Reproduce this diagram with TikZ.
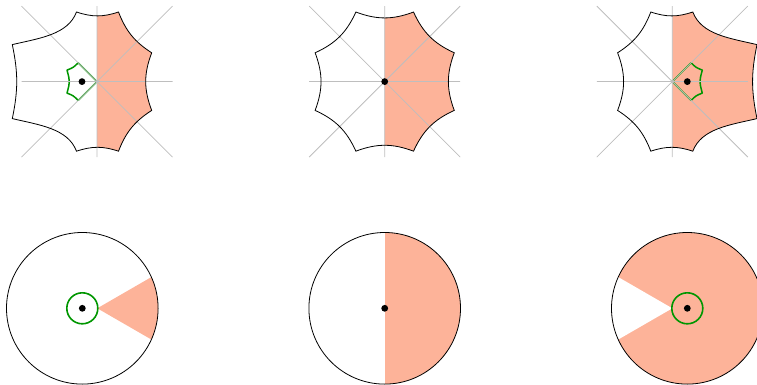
\documentclass[tikz,border=0pt]{standalone}
\definecolor{salmon}{RGB}{253,179,153}
\definecolor{dgreen}{RGB}{0,150,0}
\definecolor{lgrey}{RGB}{190,190,190}
\tikzset{
  outline/.style={draw=black, line width=0.8pt, line join=miter},
  greyline/.style={draw=lgrey, line width=0.8pt},
  greenline/.style={draw=dgreen, line width=1.5pt, line join=round},
  greenring/.style={draw=dgreen, line width=1.6pt},
  salmonfill/.style={fill=salmon},
  dotmark/.style={fill=black},
}
\newcommand{\leftoct}{(21.5,-69.6) .. controls (28.9,-50.5) and (37.5,-39.9) .. (54.7,-28.8)
  .. controls (46.7,-7.8) and (46.7,7.8) .. (54.7,28.8)
  .. controls (37.5,39.9) and (28.9,50.5) .. (21.5,69.6)
  .. controls (6,64.4) and (-5,64.4) .. (-20.5,69.6)
  .. controls (-29.1,46.9) and (-57.4,43.4) .. (-84.7,37)
  .. controls (-78.8,8.7) and (-78.8,-8.7) .. (-84.7,-37)
  .. controls (-57.4,-43.4) and (-29.1,-46.9) .. (-20.5,-69.6)
  .. controls (-5,-64.4) and (6,-64.4) .. (21.5,-69.6) -- cycle}
\newcommand{\midoct}{(69.57,28.82) .. controls (49.15,38.12) and (38.12,49.15) .. (28.82,69.57)
  .. controls (7.80,61.71) and (-7.80,61.71) .. (-28.82,69.57)
  .. controls (-38.12,49.15) and (-49.15,38.12) .. (-69.57,28.82)
  .. controls (-61.71,7.80) and (-61.71,-7.80) .. (-69.57,-28.82)
  .. controls (-49.15,-38.12) and (-38.12,-49.15) .. (-28.82,-69.57)
  .. controls (-7.80,-61.71) and (7.80,-61.71) .. (28.82,-69.57)
  .. controls (38.12,-49.15) and (49.15,-38.12) .. (69.57,-28.82)
  .. controls (61.71,-7.80) and (61.71,7.80) .. (69.57,28.82) -- cycle}
\newcommand{\greenpent}{(0,0) -- (-18.8,-18.8) .. controls (-23.7,-14) .. (-30,-11.5)
  .. controls (-26.9,0) .. (-30,11.5) .. controls (-23.7,14) .. (-18.8,18.8) -- cycle}
\newcommand{\greylines}{(-75.5,0) -- (75.5,0) (0,-75.5) -- (0,75.5)
  (-75.5,-75.5) -- (75.5,75.5) (-75.5,75.5) -- (75.5,-75.5)}
\begin{document}
\begin{tikzpicture}[x=1pt,y=-1pt]
\useasboundingbox (0,0) rectangle (757,385);
% ---------- top left ----------
\begin{scope}[shift={(97,81.6)}]
  \coordinate (c1) at (0,0);
  \begin{scope}
    \clip (0,-90) rectangle (100,90);
    \path[salmonfill] \leftoct;
  \end{scope}
  \draw[greenline] \greenpent;
  \draw[greyline] \greylines;
  \draw[outline] \leftoct;
  \fill[dotmark] (-15,0) circle (3.4);
\end{scope}
% ---------- top middle ----------
\begin{scope}[shift={(384.7,81.6)}]
  \coordinate (c2) at (0,0);
  \begin{scope}
    \clip (0,-90) rectangle (100,90);
    \path[salmonfill] \midoct;
  \end{scope}
  \draw[greyline] \greylines;
  \draw[outline] \midoct;
  \fill[dotmark] (0,0) circle (3.4);
\end{scope}
% ---------- top right ----------
\begin{scope}[shift={(672.3,81.6)}, xscale=-1]
  \coordinate (c3) at (0,0);
  \begin{scope}
    \clip (0,-90) rectangle (-100,90);
    \path[salmonfill] \leftoct;
  \end{scope}
  \draw[greenline] \greenpent;
  \draw[greyline] \greylines;
  \draw[outline] \leftoct;
  \fill[dotmark] (-15,0) circle (3.4);
\end{scope}
% ---------- bottom left ----------
\begin{scope}[shift={(82.3,308.3)}]
  \coordinate (d1) at (0,0);
  \begin{scope}
    \clip (0,0) circle (75.8);
    \fill[salmon] (15,0) -- (188.2,100) -- (188.2,-100) -- cycle;
  \end{scope}
  \draw[outline] (0,0) circle (75.8);
  \draw[greenring] (0,0) circle (15.5);
  \fill[dotmark] (0,0) circle (3.4);
\end{scope}
% ---------- bottom middle ----------
\begin{scope}[shift={(384.7,308.3)}]
  \coordinate (d2) at (0,0);
  \begin{scope}
    \clip (0,0) circle (75.8);
    \fill[salmon] (0,-80) rectangle (80,80);
  \end{scope}
  \draw[outline] (0,0) circle (75.8);
  \fill[dotmark] (0,0) circle (3.4);
\end{scope}
% ---------- bottom right ----------
\begin{scope}[shift={(687.3,308.3)}]
  \coordinate (d3) at (0,0);
  \begin{scope}
    \clip (0,0) circle (75.8);
    \fill[salmon] (-80,-80) rectangle (80,80);
    \fill[white] (-15,0) -- (-188.2,100) -- (-188.2,-100) -- cycle;
  \end{scope}
  \draw[outline] (0,0) circle (75.8);
  \draw[greenring] (0,0) circle (15.5);
  \fill[dotmark] (0,0) circle (3.4);
\end{scope}
\end{tikzpicture}
\end{document}
